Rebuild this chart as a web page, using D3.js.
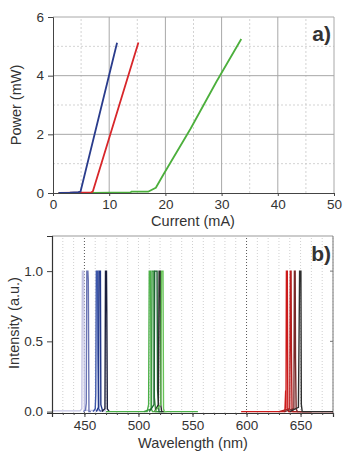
<!DOCTYPE html>
<html><head><meta charset="utf-8">
<script src="https://cdn.jsdelivr.net/npm/d3@7"></script>
<style>
body{margin:0;background:#fff;}
svg{display:block;font-family:"Liberation Sans",Arial,sans-serif;}
</style></head><body>
<script>
// ---------- Panel a) data ----------
const xTicksA = [0,10,20,30,40,50];
const yTicksA = [0,2,4,6];
const blueLI  = [[1,0.0],[3,0.01],[4.5,0.03],[4.9,0.05],[11.4,5.12]];
const redLI   = [[1,0.0],[5,0.01],[6.8,0.02],[7.1,0.06],[15.2,5.13]];
const greenLI = [[1,0.0],[7,0.0],[13.8,0.02],[14,0.05],[17,0.05],[18.3,0.18],[19.7,0.65],[24.5,2.2],[29.1,3.8],[33.5,5.25]];
const liColors = {green:"#4caf3c", red:"#d8262a", blue:"#2a3c8c"};

// ---------- Panel b) data ----------
const xTicksB = [450,500,550,600,650];
const yTicksB = [0.0,0.5,1.0];
const specLavender = [[420,0.005],[446,0.005],[447.6,0.02],[448.1,1.0],[449.4,1.0],[450,0.01],[470,0.005]];
const specSlate    = [[449,0],[451,0.01],[451.7,0.06],[452.2,1.0],[453.2,1.0],[453.6,0.93],[454.2,0.0],[456,0]];
const specBlue     = [[458,0],[460,0.02],[460.5,0.12],[461,1.0],[462.2,1.0],[462.5,0.4],[463.2,0.02],[465,0]];
const specDarkBlue = [[461,0],[463,0.03],[463.5,1.0],[464.8,1.0],[465.2,0.05],[467,0]];
const specNavy     = [[466,0],[469,0.02],[469.5,1.0],[470.4,1.0],[470.7,0.7],[471.2,0.02],[473,0]];
const specGreen1   = [[470,0],[508,0],[509.4,0.05],[510,1.0],[511.2,1.0],[511.8,0.02],[513,0],[555,0]];
const specGreen2   = [[505,0],[512,0.02],[512.6,1.0],[514.2,1.0],[514.7,0.1],[516,0],[520,0]];
const specGreen3   = [[510,0],[514.4,0.05],[515,1.0],[517.2,1.0],[517.7,0.15],[519,0],[522,0]];
const specGreenBk  = [[515,0],[518.4,0.05],[519.1,1.0],[520.2,1.0],[520.6,0.05],[521.5,0],[524,0]];
const specGreen4   = [[515,0],[520.7,0.05],[521.3,1.0],[522.7,1.0],[523.2,0.02],[524,0],[526,0]];
const specRed1     = [[595,0],[635.5,0],[636.2,0.15],[636.5,0.02],[636.9,1.0],[637.7,1.0],[638.2,0.02],[639,0],[680,0]];
const specRed2     = [[630,0],[640,0.02],[640.5,1.0],[641.2,1.0],[641.5,0.45],[642.1,0.02],[643,0],[660,0]];
const specRed3     = [[635,0],[643.8,0.02],[644.3,1.0],[645,1.0],[645.3,0.38],[645.9,0.02],[647,0],[660,0]];
const specBlack    = [[640,0],[648,0.03],[648.5,0.45],[649.1,1.0],[650.3,1.0],[650.7,0.05],[651.5,0],[680,0]];
const spectra = [
  {d:specLavender,c:"#c4c4e4"},{d:specSlate,c:"#6a74b4"},{d:specBlue,c:"#3c56aa"},
  {d:specDarkBlue,c:"#22388a"},{d:specNavy,c:"#1a1e3c"},
  {d:specGreen1,c:"#4cb048"},{d:specGreen2,c:"#3c9a40"},{d:specGreen3,c:"#1e6434"},
  {d:specGreenBk,c:"#2a2a2a"},{d:specGreen4,c:"#68c458"},
  {d:specRed1,c:"#cc1a1a"},{d:specRed2,c:"#b42020"},{d:specRed3,c:"#7a2a2a"},{d:specBlack,c:"#2e2e2e"}
];

const W=347,H=454;
const svg=d3.select("body").append("svg").attr("width",W).attr("height",H);
const txt="#333";

// ===== Panel a =====
{
  const x=d3.scaleLinear().domain([0,50]).range([53,334]);
  const y=d3.scaleLinear().domain([0,6]).range([193,17]);
  const g=svg.append("g");
  g.selectAll(".vm").data([5,15,25,35,45]).join("line")
    .attr("x1",d=>x(d)).attr("x2",d=>x(d)).attr("y1",y(0)).attr("y2",y(6))
    .attr("stroke","#c8c8c8").attr("stroke-dasharray","2,2").attr("stroke-width",0.8);
  g.selectAll(".hm").data([1,3,5]).join("line")
    .attr("x1",x(0)).attr("x2",x(50)).attr("y1",d=>y(d)).attr("y2",d=>y(d))
    .attr("stroke","#c8c8c8").attr("stroke-dasharray","2,2").attr("stroke-width",0.8);
  g.selectAll(".vM").data([10,20,30,40,50]).join("line")
    .attr("x1",d=>x(d)).attr("x2",d=>x(d)).attr("y1",y(0)).attr("y2",y(6))
    .attr("stroke","#a8a8a8").attr("stroke-width",1);
  g.selectAll(".hM").data([2,4,6]).join("line")
    .attr("x1",x(0)).attr("x2",x(50)).attr("y1",d=>y(d)).attr("y2",d=>y(d))
    .attr("stroke","#a8a8a8").attr("stroke-width",1);
  const line=d3.line().x(d=>x(d[0])).y(d=>y(d[1]));
  [[greenLI,liColors.green],[redLI,liColors.red],[blueLI,liColors.blue]].forEach(([d,c])=>{
    g.append("path").datum(d).attr("d",line).attr("fill","none").attr("stroke",c).attr("stroke-width",1.8).attr("stroke-linejoin","round");
  });
  const xa=g.append("g").attr("transform",`translate(0,${y(0)})`)
    .call(d3.axisBottom(x).tickValues(xTicksA).tickSize(3).tickFormat(d3.format("d")));
  const ya=g.append("g").attr("transform",`translate(${x(0)},0)`)
    .call(d3.axisLeft(y).tickValues(yTicksA).tickSize(5).tickFormat(d3.format("d")));
  [xa,ya].forEach(a=>{a.select(".domain").attr("stroke","#444");a.selectAll(".tick line").attr("stroke","#444");
    a.selectAll("text").attr("fill",txt).attr("font-size",13.5);});
  ya.selectAll("text").attr("dx","-1px");
  svg.append("text").attr("x",193).attr("y",226).attr("text-anchor","middle").attr("font-size",14.5).attr("fill",txt).text("Current (mA)");
  svg.append("text").attr("transform",`translate(21,105) rotate(-90)`).attr("text-anchor","middle").attr("font-size",14.5).attr("fill",txt).text("Power (mW)");
  svg.append("text").attr("x",331).attr("y",41).attr("text-anchor","end").attr("font-size",21).attr("font-weight","bold").attr("fill","#333").text("a)");
}

// ===== Panel b =====
{
  const x=d3.scaleLinear().domain([420,680]).range([52,333]);
  const y=d3.scaleLinear().domain([-0.01,1.25]).range([413,236]);
  const g=svg.append("g");
  const minor=d3.range(430,681,10).filter(v=>v!==450&&v!==600);
  g.selectAll(".vm").data(minor).join("line")
    .attr("x1",d=>x(d)).attr("x2",d=>x(d)).attr("y1",y(-0.01)).attr("y2",y(1.25))
    .attr("stroke","#c4c4c4").attr("stroke-dasharray","1,2").attr("stroke-width",0.8);
  g.selectAll(".vM").data([450,600]).join("line")
    .attr("x1",d=>x(d)).attr("x2",d=>x(d)).attr("y1",y(-0.01)).attr("y2",y(1.25))
    .attr("stroke","#444").attr("stroke-dasharray","1,2").attr("stroke-width",0.9);
  g.append("line").attr("x1",x(420)).attr("x2",x(680)).attr("y1",y(1.25)).attr("y2",y(1.25)).attr("stroke","#999");
  g.append("line").attr("x1",x(680)).attr("x2",x(680)).attr("y1",y(1.25)).attr("y2",y(-0.01)).attr("stroke","#777");
  g.selectAll(".rt").data(yTicksB).join("line")
    .attr("x1",x(680)-3).attr("x2",x(680)).attr("y1",d=>y(d)).attr("y2",d=>y(d)).attr("stroke","#777");
  const line=d3.line().x(d=>x(d[0])).y(d=>y(d[1]));
  spectra.forEach(s=>{
    g.append("path").datum(s.d).attr("d",line).attr("fill","none").attr("stroke",s.c).attr("stroke-width",1.4);
  });
  const xa=g.append("g").attr("transform",`translate(0,${y(-0.01)})`)
    .call(d3.axisBottom(x).tickValues(xTicksB).tickSize(4).tickFormat(d3.format("d")));
  g.append("g").attr("transform",`translate(0,${y(-0.01)})`)
    .call(d3.axisBottom(x).tickValues(d3.range(430,681,10)).tickSize(2).tickFormat(""))
    .call(a=>{a.select(".domain").remove();a.selectAll(".tick line").attr("stroke","#444");});
  const ya=g.append("g").attr("transform",`translate(${x(420)},0)`)
    .call(d3.axisLeft(y).tickValues(yTicksB).tickSize(5).tickFormat(d3.format(".1f")));
  [xa,ya].forEach(a=>{a.select(".domain").attr("stroke","#333").attr("stroke-width",1.2);a.selectAll(".tick line").attr("stroke","#444");
    a.selectAll("text").attr("fill",txt).attr("font-size",13.5);});
  ya.selectAll("text").attr("dx","-1px");
  svg.append("text").attr("x",193).attr("y",448).attr("text-anchor","middle").attr("font-size",14.5).attr("fill",txt).text("Wavelength (nm)");
  svg.append("text").attr("transform",`translate(19,323) rotate(-90)`).attr("text-anchor","middle").attr("font-size",14.5).attr("fill",txt).text("Intensity (a.u.)");
  svg.append("text").attr("x",331).attr("y",261).attr("text-anchor","end").attr("font-size",21).attr("font-weight","bold").attr("fill","#333").text("b)");
}
</script>
</body></html>
